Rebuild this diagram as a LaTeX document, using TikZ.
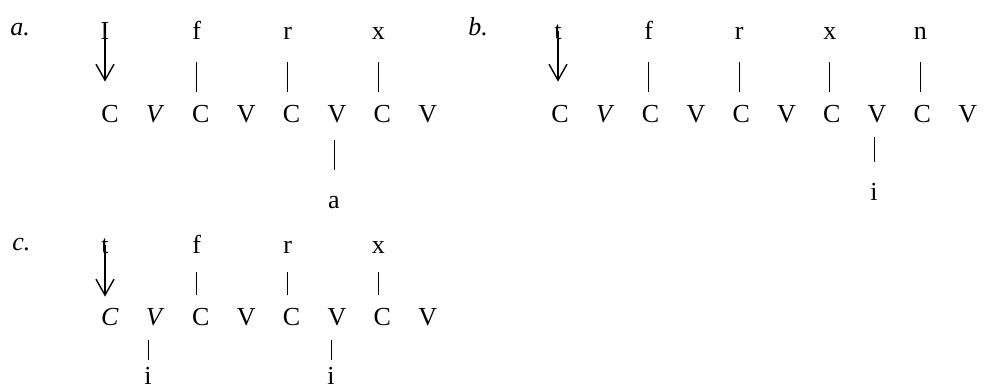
\documentclass[tikz,border=0pt]{standalone}
\usepackage{fontspec}
\setmainfont{Liberation Serif}
\usetikzlibrary{arrows.meta}

\tikzset{
  seg/.style={inner sep=0pt, anchor=base, text height=8.5pt, text depth=0pt,
              font=\fontsize{13}{15}\selectfont},
  lbl/.style={inner sep=0pt, anchor=base west, font=\fontsize{13}{15}\selectfont\itshape},
  link/.style={line width=0.5pt},
  stress/.style={line width=0.7pt, -{Straight Barb[length=8pt, width=9pt]}},
}

\begin{document}
\begin{tikzpicture}[x=0.5pt, y=-0.5pt]

\useasboundingbox (0,0) rectangle (984,387);

% --- a. ---
\node[lbl] (lbla) at (10,35) {a.};
\foreach \s [count=\i] in {C,\textit{V},C,V,C,V,C,V}
  \node[seg] (a\i) at ({110+45.4*(\i-1)},122) {\s};

\node[seg] (aI) at (105,39) {I};
\foreach \s/\k in {f/3, r/5, x/7} {
  \node[seg] (a\s) at ({106+45.4*(\k-1)},39) {\s};
  \draw[link, shorten <=11.5pt, shorten >=6.5pt] (a\s.south) -- (a\s.south |- a\k.north);
}
\draw[stress, shorten >=11.5pt] (aI.center) -- (aI.center |- a1.north);

% vowel below
\node[seg] (aa) at (334,208) {a};
\draw[link, shorten <=9pt, shorten >=10.5pt] (aa.north |- a6.south) -- (aa.north);

% --- b. ---
\node[lbl] (lblb) at (468,35) {b.};
\foreach \s [count=\i] in {C,\textit{V},C,V,C,V,C,V,C,V}
  \node[seg] (b\i) at ({560+45.3*(\i-1)},122) {\s};

\node[seg] (bt) at (558,39) {t};
\foreach \s/\k in {f/3, r/5, x/7, n/9} {
  \node[seg] (b\s) at ({558+45.3*(\k-1)},39) {\s};
  \draw[link, shorten <=11.5pt, shorten >=6.5pt] (b\s.south) -- (b\s.south |- b\k.north);
}
\draw[stress, shorten >=11.5pt] (bt.center) -- (bt.center |- b1.north);

% vowel below
\node[seg] (bi) at (874,200) {i};
\draw[link, shorten <=7.5pt, shorten >=10.5pt] (bi.north |- b8.south) -- (bi.north);

% --- c. ---
\node[lbl] (lblc) at (12,250) {c.};
\foreach \s [count=\i] in {\textit{C},\textit{V},C,V,C,V,C,V}
  \node[seg] (c\i) at ({110+45.4*(\i-1)},325) {\s};

\node[seg] (ct) at (105,253) {t};
\foreach \s/\k in {f/3, r/5, x/7} {
  \node[seg] (c\s) at ({106+45.4*(\k-1)},253) {\s};
  \draw[link, shorten <=9.5pt, shorten >=6.5pt] (c\s.south) -- (c\s.south |- c\k.north);
}
\draw[stress, shorten >=5.5pt] (ct.center) -- (ct.center |- c1.north);

% vowels below
\foreach \n/\xx/\k in {1/148/2, 2/331/6} {
  \node[seg] (ci\n) at (\xx,384) {i};
  \draw[link, shorten <=7.5pt, shorten >=3.5pt] (ci\n.north |- c\k.south) -- (ci\n.north);
}

\end{tikzpicture}
\end{document}
